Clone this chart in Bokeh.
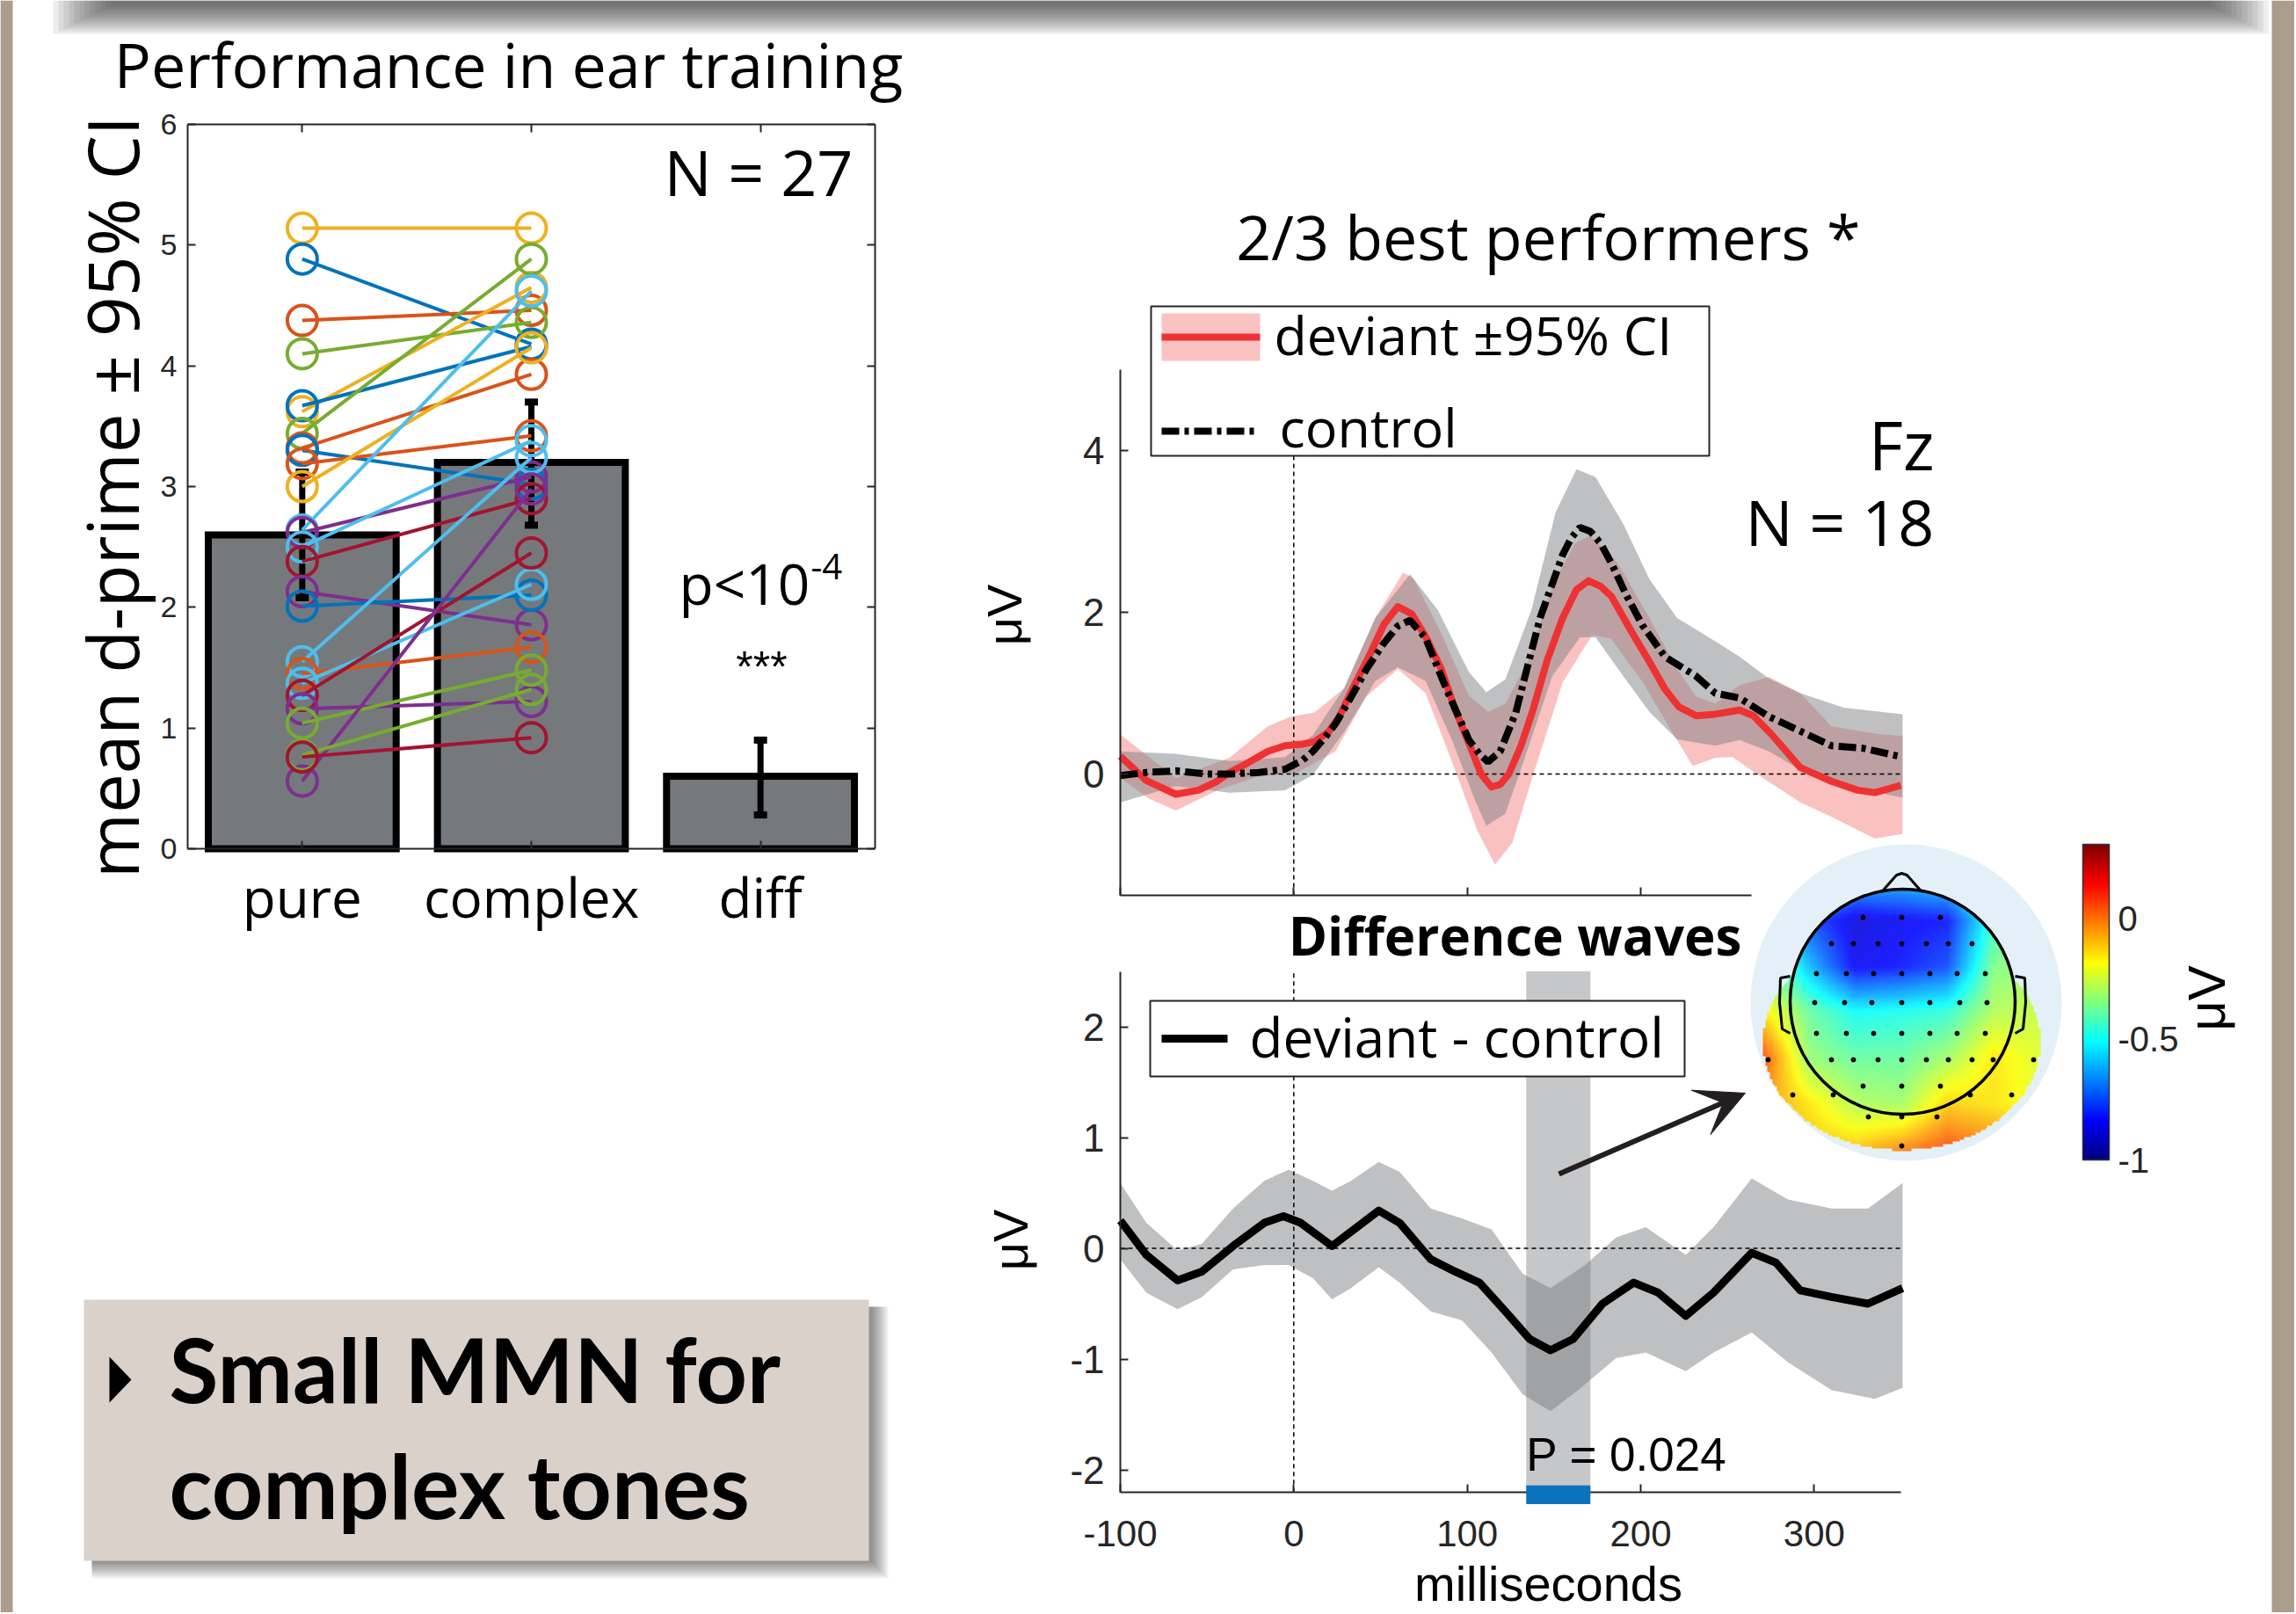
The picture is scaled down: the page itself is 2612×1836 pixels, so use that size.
import numpy as np
from bokeh.plotting import figure
from bokeh.models import (Range1d, LinearAxis, FixedTicker, ColorBar, LinearColorMapper,
                          Arrow, VeeHead)
from bokeh.core.properties import value
from bokeh.embed import file_html
from bokeh.resources import INLINE

# ---------------------------------------------------------------- data
categories = ["pure", "complex", "diff"]
cat_pos = [1, 2, 3]
bar_means = [2.60, 3.20, 0.60]
ci_low = [2.08, 2.68, 0.28]
ci_high = [3.12, 3.70, 0.90]
bar_yticks = [0, 1, 2, 3, 4, 5, 6]

B, O, Y, P, G, C, R = "#0072BD", "#D95319", "#EDB120", "#7E2F8E", "#77AC30", "#4DBEEE", "#A2142F"
subj_pure = [5.14, 4.885, 4.376, 4.10, 3.62, 3.67, 3.44, 3.32, 3.30, 3.19, 3.00, 2.64, 2.62,
             2.50, 2.38, 2.13, 2.01, 1.55, 1.45, 1.37, 1.27, 1.16, 1.04, 0.56, 0.776, 0.76]
subj_complex = [5.14, 4.18, 4.46, 4.36, 4.65, 4.16, 4.885, 3.93, 3.02, 3.42, 4.15, 4.62, 3.08,
                3.38, 2.90, 1.855, 2.10, 3.24, 1.67, 2.19, 2.45, 1.22, 1.48, 2.98, 1.32, 0.92]
subj_color = [Y, B, O, G, Y, B, G, O, B, O, Y, C, P, C, R, P, B, C, O, C, R, P, G, P, G, R]

# ERP, best performers (ms, microvolt)
dev_t = [-100, -85, -68, -55, -45, -37, -28, -15, -5, 5, 12, 20, 26, 35, 43, 52, 60, 68, 76, 85,
         93, 101, 108, 114, 119, 124, 131, 138, 146, 155, 163, 170, 177, 183, 195, 205, 214, 222,
         232, 243, 257, 265, 275, 292, 310, 325, 335, 350]
dev_v = [0.22, -0.08, -0.25, -0.20, -0.10, 0.02, 0.12, 0.28, 0.35, 0.37, 0.40, 0.52, 0.70, 1.10,
         1.44, 1.85, 2.07, 1.98, 1.70, 1.30, 0.80, 0.38, 0.00, -0.16, -0.13, 0.00, 0.35, 0.80,
         1.40, 1.93, 2.28, 2.39, 2.32, 2.20, 1.75, 1.39, 1.05, 0.83, 0.72, 0.74, 0.79, 0.72, 0.50,
         0.08, -0.09, -0.20, -0.23, -0.14]
dev_up_t = [-100, -68, -37, -15, -2, 12, 29, 47, 63, 69, 85, 101, 112, 122, 135, 149, 162, 171,
            187, 205, 221, 232, 243, 257, 274, 292, 310, 335, 351]
dev_up_v = [0.49, -0.05, 0.20, 0.59, 0.71, 0.76, 1.06, 1.93, 2.49, 2.42, 1.74, 0.97, 0.77, 0.87,
            1.40, 2.32, 2.85, 2.95, 2.60, 1.93, 1.30, 0.96, 0.87, 1.10, 1.20, 1.00, 0.59, 0.50, 0.47]
dev_lo_t = [-100, -84, -68, -44, -21, 2, 24, 42, 60, 76, 92, 106, 116, 126, 137, 155, 172, 183,
            201, 217, 230, 243, 253, 267, 292, 310, 335, 351]
dev_lo_v = [-0.05, -0.30, -0.45, -0.20, -0.03, 0.02, 0.28, 0.96, 1.30, 1.00, 0.11, -0.71, -1.12,
            -0.85, -0.08, 1.13, 1.72, 1.67, 1.14, 0.56, 0.10, 0.20, 0.21, 0.00, -0.35, -0.53,
            -0.80, -0.74]
ctl_t = [-100, -85, -68, -50, -37, -20, -5, 5, 11, 18, 24, 33, 42, 52, 60, 67, 76, 88, 101, 107,
         112, 119, 128, 135, 142, 149, 155, 160, 165, 171, 177, 183, 192, 201, 214, 232, 243, 257,
         274, 292, 310, 328, 351]
ctl_v = [-0.02, 0.02, 0.04, 0.00, 0.00, 0.02, 0.06, 0.17, 0.28, 0.45, 0.62, 0.95, 1.30, 1.62,
         1.83, 1.90, 1.68, 1.05, 0.42, 0.25, 0.15, 0.28, 0.76, 1.35, 1.93, 2.35, 2.71, 2.92, 3.05,
         3.00, 2.85, 2.61, 2.20, 1.84, 1.45, 1.21, 1.00, 0.94, 0.71, 0.53, 0.35, 0.32, 0.21]
ctl_up_t = [-100, -68, -37, -5, 11, 29, 47, 67, 83, 101, 111, 122, 137, 151, 163, 174, 190, 205,
            221, 243, 257, 274, 292, 317, 351]
ctl_up_v = [0.28, 0.25, 0.16, 0.21, 0.48, 1.06, 1.93, 2.47, 2.03, 1.26, 1.01, 1.17, 2.03, 3.24,
            3.77, 3.67, 3.09, 2.41, 1.93, 1.64, 1.45, 1.18, 1.00, 0.82, 0.74]
ctl_lo_t = [-100, -68, -37, -5, 11, 29, 47, 60, 76, 92, 104, 111, 122, 133, 149, 165, 174, 190,
            205, 221, 243, 257, 274, 292, 317, 351]
ctl_lo_v = [-0.35, -0.15, -0.23, -0.20, -0.01, 0.52, 1.15, 1.32, 1.15, 0.38, -0.30, -0.64, -0.49,
            0.19, 1.21, 1.69, 1.69, 1.21, 0.77, 0.43, 0.35, 0.42, 0.28, 0.05, -0.15, -0.29]

# difference wave
diff_t = [-100, -85, -67, -53, -35, -17, -6, 4, 22, 33, 49, 61, 79, 93, 107, 122, 136, 148, 161,
          178, 196, 210, 226, 242, 264, 278, 292, 310, 331, 351]
diff_v = [0.25, -0.06, -0.29, -0.21, 0.02, 0.23, 0.29, 0.23, 0.02, 0.15, 0.34, 0.23, -0.10, -0.21,
          -0.31, -0.57, -0.82, -0.92, -0.82, -0.50, -0.31, -0.40, -0.61, -0.40, -0.04, -0.13,
          -0.38, -0.44, -0.50, -0.36]
diff_up_t = [-100, -85, -67, -53, -35, -17, -3, 11, 22, 33, 49, 61, 79, 97, 114, 132, 148, 168,
             186, 203, 226, 242, 264, 285, 310, 331, 351]
diff_up_v = [0.59, 0.23, -0.02, 0.04, 0.36, 0.61, 0.71, 0.61, 0.52, 0.61, 0.78, 0.69, 0.36, 0.27,
             0.17, -0.23, -0.36, -0.15, 0.10, 0.19, -0.06, 0.19, 0.63, 0.44, 0.36, 0.36, 0.59]
diff_lo_t = [-100, -85, -67, -53, -35, -17, -3, 11, 22, 33, 49, 61, 79, 97, 114, 132, 148, 164,
             186, 203, 226, 242, 264, 285, 310, 335, 351]
diff_lo_v = [-0.10, -0.40, -0.55, -0.44, -0.19, -0.15, -0.15, -0.27, -0.46, -0.36, -0.17, -0.31,
             -0.57, -0.65, -0.94, -1.32, -1.47, -1.28, -0.99, -0.94, -1.11, -0.94, -0.76, -1.03,
             -1.28, -1.36, -1.26]
sig_window = [134, 171]
p_value_label = "P = 0.024"

erp_top_yticks = [0, 2, 4]
erp_bot_yticks = [-2, -1, 0, 1, 2]
erp_xticks = [-100, 0, 100, 200, 300]

# scalp map (microvolt), rows front -> back, columns left -> right
topo_vals = [
    [-0.40, -0.50, -0.55, -0.55, -0.50, -0.40, -0.35],
    [-0.40, -0.75, -0.88, -0.85, -0.82, -0.45, -0.35],
    [-0.30, -0.60, -0.85, -0.82, -0.75, -0.35, -0.30],
    [-0.15, -0.38, -0.50, -0.48, -0.45, -0.28, -0.25],
    [0.05, -0.32, -0.38, -0.38, -0.30, -0.15, -0.22],
    [-0.05, -0.15, -0.28, -0.30, -0.12, -0.15, -0.20],
    [-0.10, -0.10, -0.10, -0.02, 0.06, 0.00, -0.10],
]
cbar_low, cbar_high = -1.0, 0.31
cbar_ticks = [-1, -0.5, 0]
electrode_x = [2119, 2163, 2207,
               2083, 2108, 2136, 2163, 2191, 2216, 2243,
               2066, 2100, 2131, 2163, 2195, 2226, 2258,
               2064, 2098, 2129, 2163, 2195, 2229, 2260,
               2066, 2100, 2131, 2163, 2195, 2226, 2258,
               2011, 2083, 2108, 2136, 2163, 2191, 2216, 2243, 2267, 2313,
               2119, 2163, 2207, 2039, 2085, 2241, 2288, 2125, 2163, 2203, 2163]
electrode_y = [1043] * 3 + [1073] * 7 + [1107] * 7 + [1140] * 7 + [1175] * 7 + [1205] * 10 + \
              [1235] * 3 + [1245] * 4 + [1270] * 3 + [1303]

# ---------------------------------------------------------------- figure
W, H = 2610, 1834
X0, Y0 = 0, 0
X1, Y1 = X0 + W, Y0 + H
AX = "#262626"

p = figure(width=W, height=H, x_range=Range1d(X0, X1), y_range=Range1d(Y1, Y0),
           x_axis_type=None, y_axis_type=None, toolbar_location=None, output_backend="svg",
           min_border=0, outline_line_color=None, background_fill_color="white",
           border_fill_color="white")


def xmap(px0, v0, px1, v1):
    s = (v1 - v0) / (px1 - px0)
    return Range1d(v0 + (X0 - px0) * s, v0 + (X1 - px0) * s)


def ymap(py0, v0, py1, v1):
    s = (v1 - v0) / (py1 - py0)
    return Range1d(v0 + (Y1 - py0) * s, v0 + (Y0 - py0) * s)


TOPO_L, TOPO_R, TOPO_T, TOPO_B = 2005, 2321, 993, 1309
p.extra_x_ranges = {"bx": xmap(213, 0.5, 995, 3.5), "ex": xmap(1274, -100, 2162, 350),
                    "tx": xmap(TOPO_L, 0, TOPO_R, 1)}
p.extra_y_ranges = {"by": ymap(965, 0, 141, 6), "ty": ymap(880, 0, 512, 4),
                    "dy": ymap(1419.5, 0, 1167.5, 2), "my": ymap(TOPO_B, 0, TOPO_T, 1)}


def txt(x, y, s, size, font="Open Sans", align="left", baseline="alphabetic", style="normal",
        color="black", angle=0.0, xr="default", yr="default"):
    p.text(x=[x], y=[y], text=[s], text_font=value(font), text_font_size=f"{size}px",
           text_align=align, text_baseline=baseline, text_font_style=style, text_color=color,
           angle=angle, x_range_name=xr, y_range_name=yr)


def mk_axis(side, xr, yr, loc, ticks, bounds, fs="44px", labels=None, font="Liberation Sans",
            tick_in=9, standoff=12, color=AX):
    ax = LinearAxis(x_range_name=xr, y_range_name=yr, fixed_location=loc, bounds=bounds,
                    ticker=FixedTicker(ticks=ticks, minor_ticks=[]),
                    major_tick_in=tick_in, major_tick_out=0, minor_tick_in=0, minor_tick_out=0,
                    axis_line_color=AX, axis_line_width=2, major_tick_line_color=AX,
                    major_tick_line_width=2, major_label_text_font=font,
                    major_label_text_font_size=fs, major_label_text_color=color,
                    major_label_standoff=standoff)
    if labels is not None:
        ax.major_label_overrides = labels
    p.add_layout(ax, side)
    return ax


def plain(ticks):
    return {t: str(t) for t in ticks}


# ---------------- page decoration
p.quad(left=[0], right=[14], top=[0], bottom=[1836], fill_color="#AB9C8C", line_color=None)
p.quad(left=[2584], right=[2612], top=[0], bottom=[1836], fill_color="#AB9C8C", line_color=None)
for k in range(12):
    p.quad(left=[60 + 6 * k], right=[2580 - 6 * k], top=[0], bottom=[38 - 3 * k],
           fill_color="#3a3a3a", fill_alpha=0.09, line_color=None)

# ---------------- bar chart: performance
txt(578, 72, "Performance in ear training", 70, align="center")
bx = dict(x_range_name="bx", y_range_name="by")
p.vbar(x=cat_pos, top=bar_means, bottom=0, width=0.82, fill_color="#75797C", line_color="black",
       line_width=8, line_join="miter", **bx)
p.segment(x0=cat_pos, y0=ci_low, x1=cat_pos, y1=ci_high, line_color="black", line_width=7, **bx)
p.scatter(x=cat_pos + cat_pos, y=ci_low + ci_high, marker="dash", size=15, line_width=8,
          line_color="black", **bx)
for yp, yc, col in zip(subj_pure, subj_complex, subj_color):
    p.line(x=[1, 2], y=[yp, yc], line_color=col, line_width=4, **bx)
    p.scatter(x=[1, 2], y=[yp, yc], marker="circle", size=34, fill_color=None, line_color=col,
              line_width=4, **bx)
mk_axis("left", "bx", "by", 0.5, bar_yticks, (0, 6), fs="34px", standoff=12)
mk_axis("right", "bx", "by", 3.5, bar_yticks, (0, 6), labels={t: "" for t in bar_yticks})
mk_axis("above", "bx", "by", 6, cat_pos, (0.5, 3.5), labels={t: "" for t in cat_pos})
mk_axis("below", "bx", "by", 0, cat_pos, (0.5, 3.5), fs="62px", font="Open Sans",
        labels={i + 1: c for i, c in enumerate(categories)}, standoff=12, color="black")
txt(126, 565, "mean d-prime \u00b1 95% CI", 80, align="center", angle=np.pi / 2)
txt(970, 194, "N = 27", 72, align="right")
txt(772, 663, "p<10", 64)
txt(922, 644, "-4", 40)
txt(866, 758, "***", 50, font="Liberation Sans", align="center")

# ---------------- ERP: best performers
et = dict(x_range_name="ex", y_range_name="ty")
p.patch(x=dev_up_t + dev_lo_t[::-1], y=dev_up_v + dev_lo_v[::-1], fill_color="#EE3233",
        fill_alpha=0.3, line_color=None, **et)
p.patch(x=ctl_up_t + ctl_lo_t[::-1], y=ctl_up_v + ctl_lo_v[::-1], fill_color="#7F8184",
        fill_alpha=0.5, line_color=None, **et)
p.line(x=[-100, 350], y=[0, 0], line_color="black", line_width=1.5, line_dash="5 4", **et)
p.line(x=[0, 0], y=[-1.5, 5], line_color="black", line_width=1.5, line_dash="5 4", **et)
p.line(x=dev_t, y=dev_v, line_color="#EE3233", line_width=8, line_join="round", **et)
p.line(x=ctl_t, y=ctl_v, line_color="black", line_width=8, line_dash="20 6 5 6", **et)
mk_axis("left", "ex", "ty", -100, erp_top_yticks, (-1.5, 5), fs="44px", standoff=18,
        labels=plain(erp_top_yticks))
mk_axis("below", "ex", "ty", -1.5, [-100, 0, 100, 200], (-100, 264),
        labels={t: "" for t in [-100, 0, 100, 200]})
txt(1761, 268, "2/3 best performers *", 70, align="center")
txt(2200, 505, "Fz", 76, align="right")
txt(2200, 592, "N = 18", 72, align="right")
txt(1142, 699, "\u03bcV", 56, font="Liberation Sans", align="center", baseline="middle",
    angle=np.pi / 2)
# legend
p.quad(left=[1309], right=[1944], top=[348], bottom=[518], fill_color="white", line_color=AX,
       line_width=2)
p.quad(left=[1321], right=[1433], top=[356], bottom=[410], fill_color="#EE3233", fill_alpha=0.3,
       line_color=None)
p.line(x=[1321, 1433], y=[383, 383], line_color="#EE3233", line_width=8)
p.line(x=[1321, 1430], y=[490, 490], line_color="black", line_width=8, line_dash="20 6 5 6")
txt(1449, 380, "deviant \u00b195% CI", 61)
txt(1455, 485, "control", 61)

# ---------------- ERP: difference waves
dt = dict(x_range_name="ex", y_range_name="dy")
p.patch(x=diff_up_t + diff_lo_t[::-1], y=diff_up_v + diff_lo_v[::-1], fill_color="#7F8184",
        fill_alpha=0.5, line_color=None, **dt)
p.quad(left=[sig_window[0]], right=[sig_window[1]], bottom=[-2.2], top=[2.5],
       fill_color="#78797B", fill_alpha=0.42, line_color=None, **dt)
p.line(x=[-100, 350], y=[0, 0], line_color="black", line_width=1.5, line_dash="5 4", **dt)
p.line(x=[0, 0], y=[-2.2, 2.5], line_color="black", line_width=1.5, line_dash="5 4", **dt)
p.line(x=diff_t, y=diff_v, line_color="black", line_width=9, line_join="round", **dt)
mk_axis("left", "ex", "dy", -100, erp_bot_yticks, (-2.2, 2.5), fs="44px", standoff=18,
        labels=plain(erp_bot_yticks))
mk_axis("below", "ex", "dy", -2.2, erp_xticks, (-100, 350), fs="42px", standoff=33,
        labels=plain(erp_xticks))
txt(1761, 1801, "milliseconds", 56, font="Liberation Sans", align="center")
p.quad(left=[sig_window[0]], right=[sig_window[1]], bottom=[-2.31], top=[-2.14],
       fill_color="#0B72BD", line_color=None, level="overlay", **dt)
txt(sig_window[0], -1.86, p_value_label, 53, font="Liberation Sans", xr="ex", yr="dy")
txt(1723, 1063, "Difference waves", 60, style="bold", align="center")
txt(1149, 1410, "\u03bcV", 56, font="Liberation Sans", align="center", baseline="middle",
    angle=np.pi / 2)
p.quad(left=[1308], right=[1916], top=[1138], bottom=[1224], fill_color="white", line_color=AX,
       line_width=2)
p.line(x=[1321, 1396], y=[1181, 1181], line_color="black", line_width=9)
txt(1421, 1178, "deviant - control", 62)
p.add_layout(Arrow(x_start=1773, y_start=1335, x_end=1985, y_end=1243, line_width=6,
                   line_color="#231F20",
                   end=VeeHead(size=55, fill_color="#231F20", line_color="#231F20")))

# ---------------- scalp map + colour bar
jet = []
for i in range(256):
    t = i / 255
    r = min(max(1.5 - abs(4 * t - 3), 0), 1)
    g = min(max(1.5 - abs(4 * t - 2), 0), 1)
    b = min(max(1.5 - abs(4 * t - 1), 0), 1)
    jet.append("#%02x%02x%02x" % (int(r * 255), int(g * 255), int(b * 255)))
mapper = LinearColorMapper(palette=jet, low=cbar_low, high=cbar_high, nan_color=(0, 0, 0, 0))

p.ellipse(x=[2168], y=[1140], width=[354], height=[360], fill_color="#E4F0F8", line_color=None)
grid = np.array(topo_vals)
n = 120
u = np.linspace(0, grid.shape[1] - 1, n)
v = np.linspace(0, grid.shape[0] - 1, n)
tmp = np.array([np.interp(u, np.arange(grid.shape[1]), row) for row in grid])
img = np.array([np.interp(v, np.arange(grid.shape[0]), tmp[:, j]) for j in range(n)]).T
px = TOPO_L + (np.arange(n) + 0.5) / n * (TOPO_R - TOPO_L)
py = TOPO_T + (np.arange(n) + 0.5) / n * (TOPO_B - TOPO_T)
yy, xx = np.meshgrid(py, px, indexing="ij")
outside_head = (xx - 2164) ** 2 + (yy - 1139) ** 2 > 128 ** 2
outside_low = ((xx - 2163) / 158.0) ** 2 + ((yy - 1185) / 123.0) ** 2 > 1
img[outside_head & outside_low] = np.nan
p.image(image=[np.flipud(img)], x=0, y=0, dw=1, dh=1, color_mapper=mapper, global_alpha=0.88,
        x_range_name="tx", y_range_name="my")
p.scatter(x=electrode_x, y=electrode_y, size=5, color="black")
p.ellipse(x=[2164], y=[1139], width=[256], height=[256], fill_color=None, line_color="black",
          line_width=3.5)
p.line(x=[2142, 2157, 2163, 2169, 2184], y=[1012, 995, 993, 995, 1012], line_color="black",
       line_width=3)
p.line(x=[2036, 2025, 2024, 2027, 2036], y=[1110, 1112, 1140, 1170, 1175], line_color="black",
       line_width=3)
p.line(x=[2292, 2303, 2304, 2301, 2292], y=[1110, 1112, 1140, 1170, 1175], line_color="black",
       line_width=3)

cb = ColorBar(color_mapper=mapper, ticker=FixedTicker(ticks=cbar_ticks), orientation="vertical",
              width=30, height=359, location=(2369 - X0, Y1 - 1319), padding=0,
              major_label_text_font="Liberation Sans", major_label_text_font_size="40px",
              major_label_text_color=AX, major_label_overrides={-1: "-1", -0.5: "-0.5", 0: "0"},
              label_standoff=10, bar_line_color="#333333", bar_line_width=1.5,
              major_tick_line_color=None, minor_tick_line_color=None,
              background_fill_color=None, border_line_color=None)
p.add_layout(cb)
txt(2510, 1135, "\u03bcV", 60, font="Liberation Sans", align="center", baseline="middle",
    angle=np.pi / 2)

# ---------------- conclusion box
for k in range(10):
    p.quad(left=[104], right=[990 + 2 * (k + 1)], top=[1486], bottom=[1775 + 2 * (k + 1)],
           fill_color="black", fill_alpha=0.05, line_color=None)
p.quad(left=[95], right=[988], top=[1478], bottom=[1775], fill_color="#DBD1CB", line_color=None)
p.patch(x=[124, 149, 124], y=[1543, 1569, 1595], fill_color="black", line_color=None)
txt(192, 1556, "Small MMN for", 102, font="Lato", style="bold")
txt(192, 1688, "complex tones", 102, font="Lato", style="bold")

open("out.html", "w").write(file_html(p, INLINE))
